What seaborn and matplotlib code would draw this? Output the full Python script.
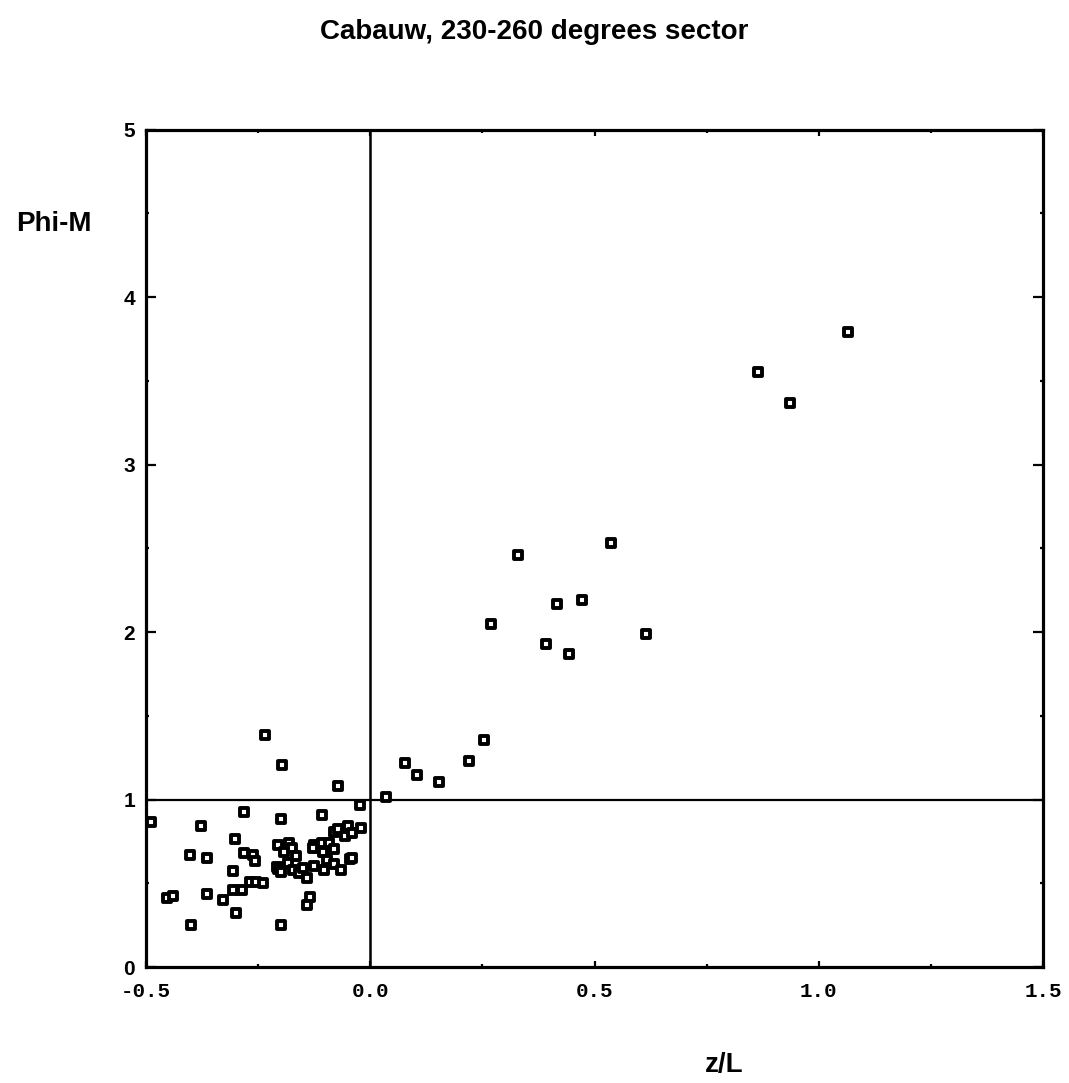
import matplotlib
matplotlib.use("Agg")
import matplotlib.pyplot as plt
import seaborn as sns
import pandas as pd
from matplotlib.ticker import MultipleLocator, FixedLocator

# ---- data ----
z_over_L = [
    1.065, 0.865, 0.935,
    0.536, 0.329, 0.472, 0.416, 0.269, 0.615, 0.391, 0.444,
    0.253, 0.221, 0.078, 0.104, 0.153, 0.036,
    -0.235, -0.197, -0.072, -0.024,
    -0.489, -0.282, -0.377, -0.200, -0.107,
    -0.301, -0.401, -0.364, -0.282, -0.262, -0.256,
    -0.307, -0.268, -0.255, -0.240,
    -0.305, -0.285, -0.328, -0.364, -0.454, -0.439,
    -0.299, -0.400, -0.198, -0.134, -0.141,
    -0.206, -0.181, -0.174, -0.192, -0.166, -0.183, -0.207, -0.205, -0.200,
    -0.172, -0.159, -0.149, -0.141,
    -0.125, -0.108, -0.092, -0.128, -0.106, -0.081, -0.097, -0.125, -0.103,
    -0.081, -0.066, -0.045, -0.040,
    -0.081, -0.073, -0.050, -0.056, -0.041, -0.021,
]
phi_m = [
    3.79, 3.55, 3.37,
    2.53, 2.46, 2.19, 2.17, 2.05, 1.99, 1.93, 1.87,
    1.355, 1.23, 1.22, 1.145, 1.105, 1.013,
    1.385, 1.205, 1.08, 0.97,
    0.866, 0.923, 0.840, 0.886, 0.906,
    0.762, 0.671, 0.651, 0.682, 0.669, 0.631,
    0.575, 0.507, 0.505, 0.500,
    0.460, 0.460, 0.402, 0.438, 0.410, 0.426,
    0.324, 0.251, 0.249, 0.420, 0.372,
    0.728, 0.742, 0.709, 0.687, 0.663, 0.623, 0.595, 0.585, 0.567,
    0.579, 0.563, 0.589, 0.533,
    0.728, 0.738, 0.738, 0.709, 0.688, 0.704, 0.639, 0.603, 0.579,
    0.615, 0.579, 0.645, 0.650,
    0.806, 0.822, 0.842, 0.782, 0.802, 0.832,
]
x_ticks = [-0.5, 0.0, 0.5, 1.0, 1.5]
x_tick_labels = ["-0.5", "0.0", "0.5", "1.0", "1.5"]
y_ticks = [0, 1, 2, 3, 4, 5]
y_tick_labels = ["0", "1", "2", "3", "4", "5"]
ref_x = 0.0
ref_y = 1.0

df = pd.DataFrame({"z/L": z_over_L, "Phi-M": phi_m})

sns.set_style("ticks")
plt.rcParams["font.family"] = ["Liberation Sans", "DejaVu Sans"]
plt.rcParams["text.color"] = "black"
plt.rcParams["axes.labelcolor"] = "black"
plt.rcParams["xtick.color"] = "black"
plt.rcParams["ytick.color"] = "black"
plt.rcParams["axes.edgecolor"] = "black"

fig = plt.figure(figsize=(10.69, 10.83), dpi=100)
ax = fig.add_axes([0.1366, 0.1071, 0.9757 - 0.1366, 0.8804 - 0.1071])

sns.scatterplot(data=df, x="z/L", y="Phi-M", ax=ax, marker="s", s=30,
                facecolor="white", edgecolor="black", linewidth=2.8,
                legend=False, zorder=3)

ax.axvline(ref_x, color="black", lw=1.8, zorder=2)
ax.axhline(ref_y, color="black", lw=1.6, zorder=2)

ax.set_xlim(-0.5, 1.5)
ax.set_ylim(0, 5)

ax.xaxis.set_major_locator(FixedLocator(x_ticks))
ax.xaxis.set_minor_locator(MultipleLocator(0.25))
ax.yaxis.set_major_locator(FixedLocator(y_ticks))
ax.yaxis.set_minor_locator(MultipleLocator(0.5))
ax.set_xticklabels(x_tick_labels, family="Liberation Mono", fontweight="bold", fontsize=15,
                   color="black")
ax.set_yticklabels(y_tick_labels, fontweight="bold", fontsize=15, color="black")

ax.tick_params(which="both", direction="in", top=True, right=True, color="black")
ax.tick_params(which="major", axis="y", length=7, width=1.6, pad=8)
ax.tick_params(which="major", axis="x", length=4, width=1.6, pad=11)
ax.tick_params(which="minor", length=2.5, width=1.6)

for sp in ax.spines.values():
    sp.set_linewidth(2.3)
    sp.set_color("black")

ax.set_xlabel("")
ax.set_ylabel("")

fig.text(0.5, 0.970, "Cabauw, 230-260 degrees sector", ha="center", va="center",
         fontsize=20, fontweight="bold", color="black")
fig.text(0.050, 0.793, "Phi-M", ha="center", va="center", fontsize=20,
         fontweight="bold", color="black")
fig.text(0.677, 0.0165, "z/L", ha="center", va="center", fontsize=20,
         fontweight="bold", color="black")

fig.savefig("out.png", dpi=100, facecolor="white")
